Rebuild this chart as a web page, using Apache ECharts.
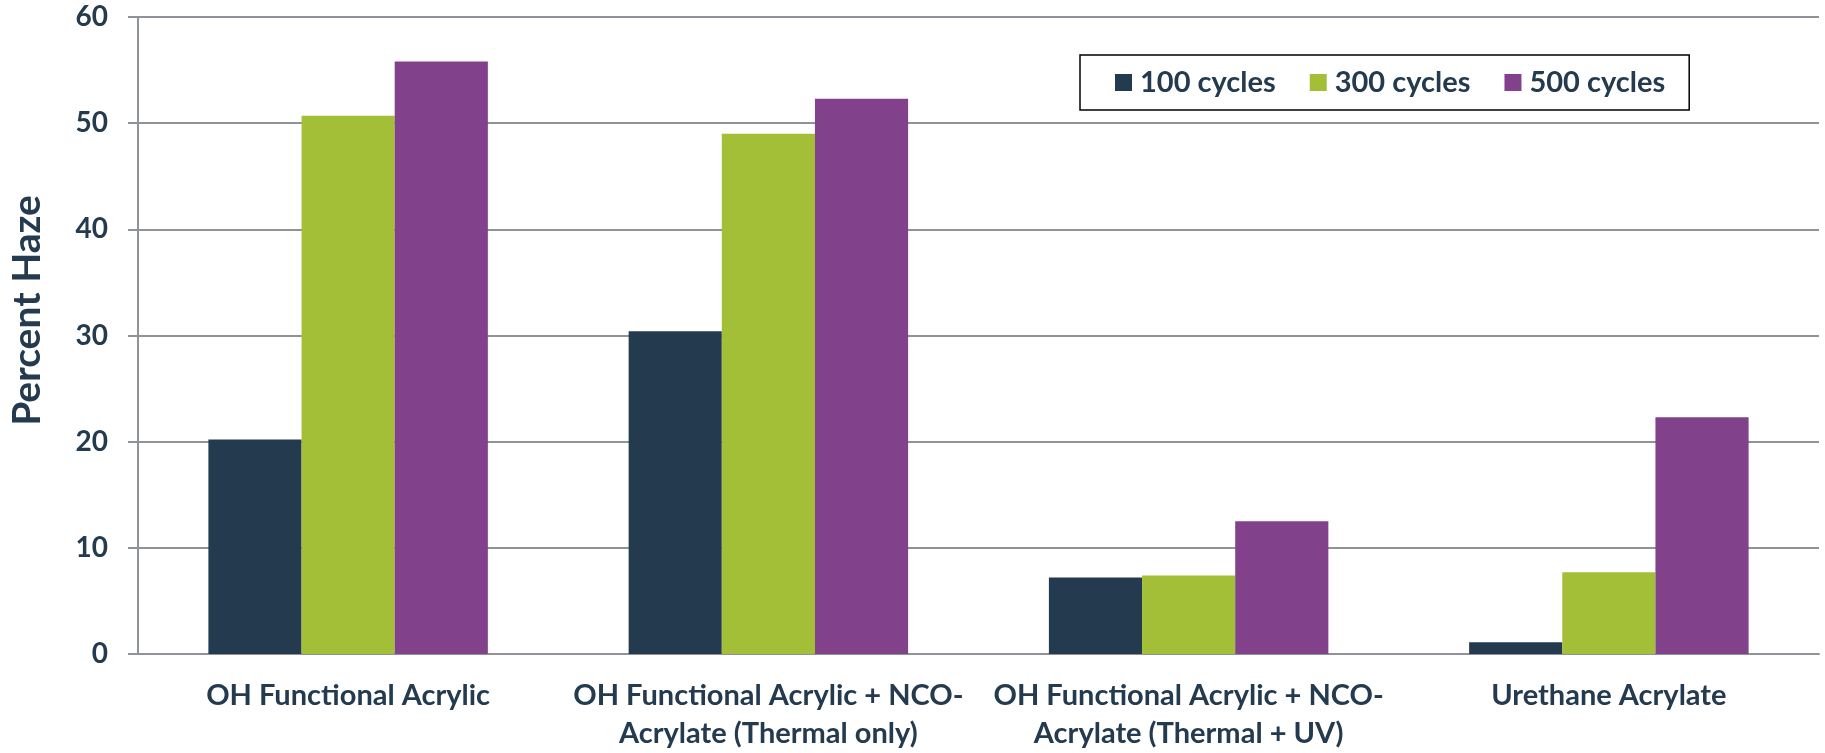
<!DOCTYPE html>
<html>
<head>
<meta charset="utf-8">
<script src="https://cdn.jsdelivr.net/npm/echarts@6/dist/echarts.min.js"></script>
<style>
  html, body { margin: 0; padding: 0; background: #ffffff; }
  #chart { width: 1825px; height: 753px; }
</style>
</head>
<body>
<div id="chart"></div>
<script>
// Coating systems on the category axis
const categories = [
  'OH Functional Acrylic',
  'OH Functional Acrylic + NCO-\nAcrylate (Thermal only)',
  'OH Functional Acrylic + NCO-\nAcrylate (Thermal + UV)',
  'Urethane Acrylate'
];

// Percent haze after each abrasion cycle count
const haze100 = [20.2, 30.4, 7.2, 1.1];
const haze300 = [50.7, 49.0, 7.4, 7.7];
const haze500 = [55.8, 52.3, 12.5, 22.3];

const seriesNames = ['100 cycles', '300 cycles', '500 cycles'];
const yTicks = { min: 0, max: 60, interval: 10 };

const navy = '#243a4f';
const green = '#a2bf37';
const purple = '#81418b';
const gridGray = '#8f9399';
const font = 'Lato, "Open Sans", sans-serif';

const chart = echarts.init(document.getElementById('chart'), null, { renderer: 'canvas' });

chart.setOption({
  animation: false,
  backgroundColor: '#ffffff',
  textStyle: { fontFamily: font, color: navy },
  grid: { left: 133, right: 6, top: 17, bottom: 97, containLabel: false },
  legend: {
    data: seriesNames,
    left: 1080,
    top: 55,
    orient: 'horizontal',
    itemWidth: 17,
    itemHeight: 17,
    itemGap: 34,
    icon: 'rect',
    padding: [13, 24, 13, 35],
    borderColor: '#000000',
    borderWidth: 1.5,
    backgroundColor: '#ffffff',
    textStyle: { fontFamily: font, fontWeight: 'bold', fontSize: 29, color: navy, padding: [0, 0, 0, 3] }
  },
  xAxis: {
    type: 'category',
    data: categories,
    axisLine: { show: true, lineStyle: { color: gridGray, width: 2 } },
    axisTick: { show: false },
    axisLabel: {
      interval: 0,
      margin: 23,
      fontFamily: font,
      fontWeight: 'bold',
      fontSize: 29,
      lineHeight: 38,
      color: navy,
      align: 'center'
    }
  },
  yAxis: {
    type: 'value',
    min: yTicks.min,
    max: yTicks.max,
    interval: yTicks.interval,
    name: 'Percent Haze',
    nameLocation: 'middle',
    nameRotate: 90,
    nameGap: 91,
    nameTextStyle: {
      fontFamily: font,
      fontWeight: 'bold',
      fontSize: 39,
      color: navy,
      padding: [0, 0, 0, 50]
    },
    axisLine: { show: true, lineStyle: { color: gridGray, width: 2 } },
    axisTick: { show: true, inside: false, length: 10, lineStyle: { color: gridGray, width: 2 } },
    splitLine: { show: true, lineStyle: { color: gridGray, width: 2 } },
    axisLabel: {
      margin: 30,
      fontFamily: font,
      fontWeight: 'bold',
      fontSize: 28,
      color: navy
    }
  },
  series: [
    {
      name: seriesNames[0], type: 'bar', data: haze100,
      itemStyle: { color: navy },
      barGap: '0%', barCategoryGap: '33.5%'
    },
    {
      name: seriesNames[1], type: 'bar', data: haze300,
      itemStyle: { color: green },
      barGap: '0%', barCategoryGap: '33.5%'
    },
    {
      name: seriesNames[2], type: 'bar', data: haze500,
      itemStyle: { color: purple },
      barGap: '0%', barCategoryGap: '33.5%'
    }
  ]
});
</script>
</body>
</html>
